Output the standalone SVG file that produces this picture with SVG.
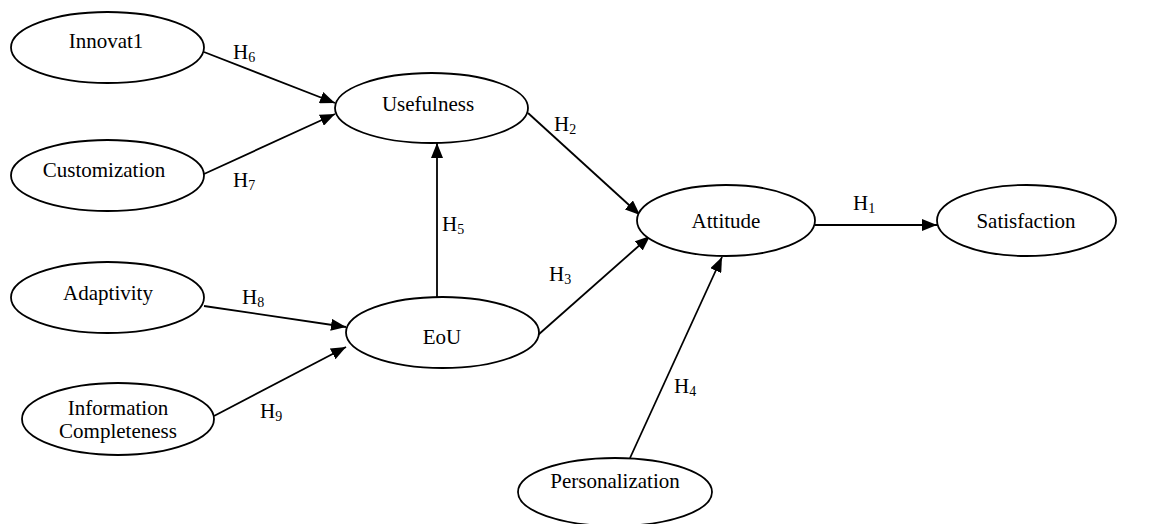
<svg xmlns="http://www.w3.org/2000/svg" width="1165" height="524" viewBox="0 0 1165 524" font-family="'Liberation Serif', 'Times New Roman', serif">
  <style>
    ellipse { fill: #ffffff; stroke: #000000; stroke-width: 1.8; }
    text { font-family: "Liberation Serif", "Times New Roman", serif; font-size: 21px; fill: #000000; }
    .name { text-anchor: middle; }
    .sub { font-size: 14px; }
    .edge { stroke: #000000; stroke-width: 1.8; fill: none; marker-end: url(#arrow); }
  </style>
  <defs>
    <marker id="arrow" markerUnits="userSpaceOnUse" markerWidth="15" markerHeight="12" refX="15" refY="6" orient="auto">
      <path d="M0,0 L15,6 L0,12 z" fill="#000000"/>
    </marker>
  </defs>
  <rect width="1165" height="524" fill="#ffffff"/>

  <!-- connectors with their hypothesis labels -->
  <g id="connectors">
    <line class="edge" x1="204" y1="52" x2="335" y2="103"/>
    <line class="edge" x1="204" y1="174" x2="335" y2="114"/>
    <line class="edge" x1="437" y1="297" x2="437" y2="143"/>
    <line class="edge" x1="528" y1="113" x2="640" y2="215"/>
    <line class="edge" x1="538" y1="335" x2="650" y2="236"/>
    <line class="edge" x1="630" y1="458" x2="722" y2="257"/>
    <line class="edge" x1="815" y1="225" x2="937" y2="225"/>
    <line class="edge" x1="204" y1="306" x2="346" y2="327"/>
    <line class="edge" x1="214" y1="416" x2="346" y2="347"/>

    <text x="233" y="59">H<tspan class="sub" dy="3">6</tspan></text>
    <text x="233" y="187">H<tspan class="sub" dy="3">7</tspan></text>
    <text x="554" y="131">H<tspan class="sub" dy="3">2</tspan></text>
    <text x="442" y="231">H<tspan class="sub" dy="3">5</tspan></text>
    <text x="549" y="281">H<tspan class="sub" dy="3">3</tspan></text>
    <text x="674" y="393">H<tspan class="sub" dy="3">4</tspan></text>
    <text x="853" y="210">H<tspan class="sub" dy="3">1</tspan></text>
    <text x="242" y="304">H<tspan class="sub" dy="3">8</tspan></text>
    <text x="260" y="418">H<tspan class="sub" dy="3">9</tspan></text>
  </g>

  <!-- constructs -->
  <g id="innovat1">
    <ellipse cx="107.5" cy="47.5" rx="96.5" ry="35.5"/>
    <text class="name" x="106" y="48">Innovat1</text>
  </g>
  <g id="customization">
    <ellipse cx="107.5" cy="175.5" rx="96.5" ry="35.5"/>
    <text class="name" x="104" y="177">Customization</text>
  </g>
  <g id="usefulness">
    <ellipse cx="431.5" cy="108" rx="96.5" ry="35"/>
    <text class="name" x="428" y="111">Usefulness</text>
  </g>
  <g id="adaptivity">
    <ellipse cx="107.5" cy="297.5" rx="96.5" ry="35.5"/>
    <text class="name" x="108" y="300">Adaptivity</text>
  </g>
  <g id="information-completeness">
    <ellipse cx="118" cy="419" rx="96" ry="36"/>
    <text class="name" x="118" y="415">Information</text>
    <text class="name" x="118" y="438">Completeness</text>
  </g>
  <g id="eou">
    <ellipse cx="442.5" cy="332.5" rx="96.5" ry="35.5"/>
    <text class="name" x="442" y="344">EoU</text>
  </g>
  <g id="attitude">
    <ellipse cx="726" cy="220.5" rx="89" ry="35.5"/>
    <text class="name" x="726" y="228">Attitude</text>
  </g>
  <g id="satisfaction">
    <ellipse cx="1026.5" cy="220.5" rx="89.5" ry="35.5"/>
    <text class="name" x="1026" y="228">Satisfaction</text>
  </g>
  <g id="personalization">
    <ellipse cx="615" cy="492" rx="97" ry="34"/>
    <text class="name" x="615" y="488">Personalization</text>
  </g>
</svg>
